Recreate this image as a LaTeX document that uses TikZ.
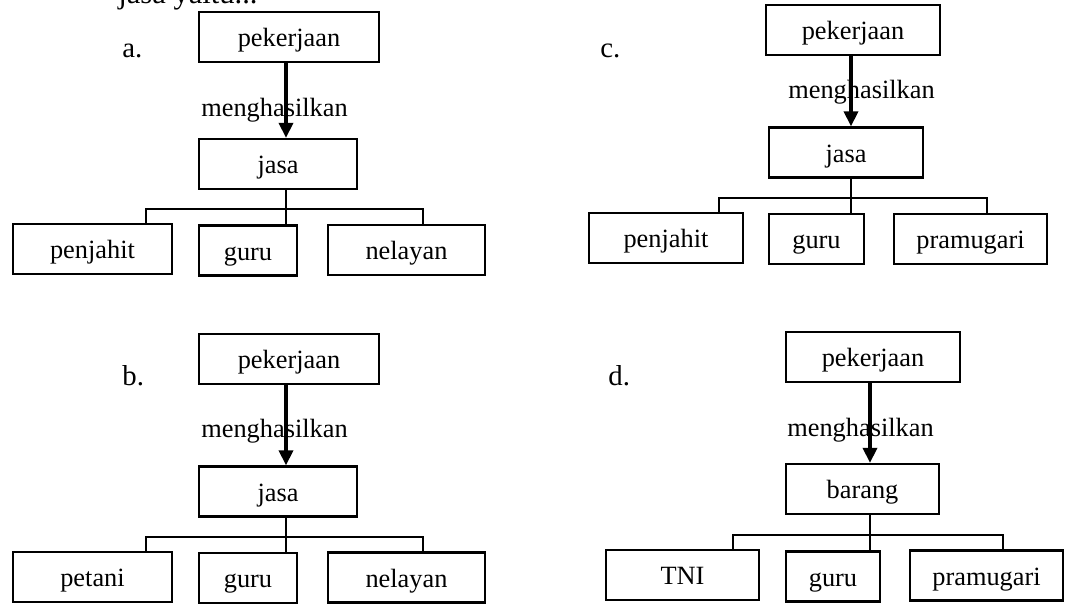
\documentclass[tikz,border=0pt]{standalone}
\usepackage{fontspec}
\setmainfont{Liberation Serif}
\usepackage{tikz}
\usetikzlibrary{arrows.meta}
\tikzset {
kotak/.style={shape=rectangle,draw,line width=1.3pt,minimum height=1cm,inner sep=0pt,text height=12.5pt,text depth=1.2pt,font=\fontsize{15}{18}\selectfont},
cabang/.style={line width=1.2pt},
panah/.style={line width=2pt,-{Triangle[width=0.28cm,length=0.3cm]}},
huruf/.style={anchor=base west,inner sep=0pt,font=\fontsize{16.4}{19}\selectfont},
hasil/.style={anchor=base west,inner sep=0pt,font=\fontsize{15}{18}\selectfont}
}
\begin{document}
\begin{tikzpicture}
[x=0.02cm,y=-0.02cm]
\clip (0,0) rectangle (1089,607);
\node[huruf,font=\fontsize{17.4}{20}\selectfont] (soal) at (118,4) {jasa yaitu...};

% a.
\node[huruf] (label a) at (122,58) {a.};
\node[kotak,minimum width=3.6cm] (pekerjaan a) at (289,37) {pekerjaan};
\node[kotak,minimum width=3.16cm] (jasa a) at (278,164) {jasa};
\node[kotak,minimum width=3.18cm] (penjahit a) at (92.5,249) {penjahit};
\node[kotak,minimum width=1.96cm] (guru a) at (248,250.5) {guru};
\node[kotak,minimum width=3.14cm] (nelayan a) at (406.5,250) {nelayan};
\node[hasil] (menghasilkan a) at (201,117) {menghasilkan};
\coordinate (batang a) at (286,209);
\coordinate (kiri a) at (146,209);
\coordinate (kanan a) at (423,209);
\draw[panah] (pekerjaan a.south -| batang a) -- (jasa a.north -| batang a);
\draw[cabang] (jasa a.south -| batang a) -- (guru a.north -| batang a);
\draw[cabang] (kiri a |- penjahit a.north) -- (kiri a) -- (kanan a) -- (kanan a |- nelayan a.north);

% c.
\node[huruf] (label c) at (600,58) {c.};
\node[kotak,minimum width=3.48cm] (pekerjaan c) at (853,30) {pekerjaan};
\node[kotak,minimum width=3.08cm] (jasa c) at (846,152.5) {jasa};
\node[kotak,minimum width=3.08cm] (penjahit c) at (666,238) {penjahit};
\node[kotak,minimum width=1.9cm] (guru c) at (816.5,239) {guru};
\node[kotak,minimum width=3.06cm] (pramugari c) at (970.5,239) {pramugari};
\node[hasil] (menghasilkan c) at (788,99) {menghasilkan};
\coordinate (batang c) at (851,198);
\coordinate (kiri c) at (719,198);
\coordinate (kanan c) at (987,198);
\draw[panah] (pekerjaan c.south -| batang c) -- (jasa c.north -| batang c);
\draw[cabang] (jasa c.south -| batang c) -- (guru c.north -| batang c);
\draw[cabang] (kiri c |- penjahit c.north) -- (kiri c) -- (kanan c) -- (kanan c |- pramugari c.north);

% b.
\node[huruf] (label b) at (122,386) {b.};
\node[kotak,minimum width=3.6cm] (pekerjaan b) at (289,359) {pekerjaan};
\node[kotak,minimum width=3.16cm] (jasa b) at (278,491.5) {jasa};
\node[kotak,minimum width=3.18cm] (petani b) at (92.5,577) {petani};
\node[kotak,minimum width=1.96cm] (guru b) at (248,578) {guru};
\node[kotak,minimum width=3.14cm] (nelayan b) at (406.5,577.5) {nelayan};
\node[hasil] (menghasilkan b) at (201,438) {menghasilkan};
\coordinate (batang b) at (286,537);
\coordinate (kiri b) at (146,537);
\coordinate (kanan b) at (423,537);
\draw[panah] (pekerjaan b.south -| batang b) -- (jasa b.north -| batang b);
\draw[cabang] (jasa b.south -| batang b) -- (guru b.north -| batang b);
\draw[cabang] (kiri b |- petani b.north) -- (kiri b) -- (kanan b) -- (kanan b |- nelayan b.north);

% d.
\node[huruf] (label d) at (608,386) {d.};
\node[kotak,minimum width=3.48cm] (pekerjaan d) at (873,357) {pekerjaan};
\node[kotak,minimum width=3.06cm] (barang d) at (862.5,489) {barang};
\node[kotak,minimum width=3.06cm] (tni d) at (682.5,575) {TNI};
\node[kotak,minimum width=1.88cm] (guru d) at (833,576.5) {guru};
\node[kotak,minimum width=3.06cm] (pramugari d) at (986.5,575.5) {pramugari};
\node[hasil] (menghasilkan d) at (787,437) {menghasilkan};
\coordinate (batang d) at (870,535);
\coordinate (kiri d) at (733,535);
\coordinate (kanan d) at (1003,535);
\draw[panah] (pekerjaan d.south -| batang d) -- (barang d.north -| batang d);
\draw[cabang] (barang d.south -| batang d) -- (guru d.north -| batang d);
\draw[cabang] (kiri d |- tni d.north) -- (kiri d) -- (kanan d) -- (kanan d |- pramugari d.north);
\end{tikzpicture}
\end{document}
